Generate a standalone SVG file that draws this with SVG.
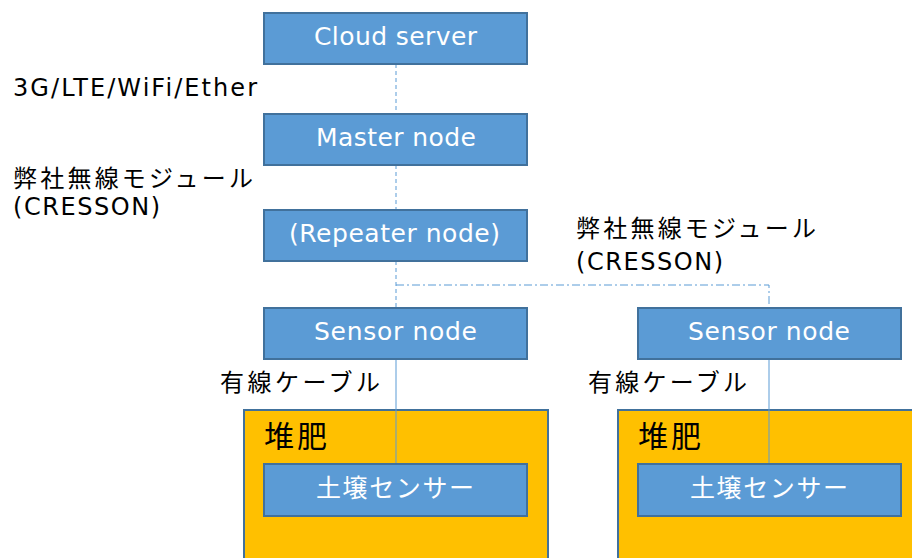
<svg xmlns="http://www.w3.org/2000/svg" width="912" height="558" viewBox="0 0 912 558">
  <style>
    .box { fill: #5B9BD5; stroke: #41719C; stroke-width: 2; }
    .pile { fill: #FFC000; stroke: #41719C; stroke-width: 2; }
    .nt { fill: #FFFFFF; font-family: "DejaVu Sans", "Noto Sans CJK JP", sans-serif; font-size: 25px; }
    .ntj { fill: #FFFFFF; font-family: "Noto Sans CJK JP", sans-serif; font-size: 25px; }
    .lbl { fill: #000000; font-family: "DejaVu Sans", "Noto Sans CJK JP", sans-serif; font-size: 24px; }
    .lblj { fill: #000000; font-family: "Noto Sans CJK JP", sans-serif; font-size: 24px; }
    .big { fill: #000000; font-family: "Noto Sans CJK JP", sans-serif; font-size: 30px; }
    .dash { stroke: #5B9BD5; stroke-width: 1; fill: none; stroke-dasharray: 4 3; }
    .dashdot { stroke: #5B9BD5; stroke-width: 1; fill: none; stroke-dasharray: 8 3 2 3; }
    .solid { stroke: #5B9BD5; stroke-width: 1; fill: none; }
  </style>

  <!-- compost piles -->
  <g id="pile-left">
    <rect class="pile" x="244" y="410" width="304" height="160"/>
    <text class="big" x="264" y="447" textLength="63">堆肥</text>
  </g>
  <g id="pile-right">
    <rect class="pile" x="618" y="410" width="304" height="160"/>
    <text class="big" x="638" y="447" textLength="63">堆肥</text>
  </g>

  <!-- connectors -->
  <g id="connectors">
    <line class="dash" x1="396" y1="64" x2="396" y2="114"/>
    <line class="dash" x1="396" y1="165" x2="396" y2="210"/>
    <line class="dash" x1="396" y1="261" x2="396" y2="308"/>
    <polyline class="dashdot" points="396,285 769,285 769,308"/>
    <line class="solid" x1="396" y1="359" x2="396" y2="464"/>
    <line class="solid" x1="769" y1="359" x2="769" y2="464"/>
  </g>

  <g id="cloud-server">
    <rect class="box" x="264" y="13" width="263" height="51"/>
    <text class="nt" x="314" y="45" textLength="163">Cloud server</text>
  </g>
  <g id="master-node">
    <rect class="box" x="264" y="114" width="263" height="51"/>
    <text class="nt" x="316" y="146" textLength="160">Master node</text>
  </g>
  <g id="repeater-node">
    <rect class="box" x="264" y="210" width="263" height="51"/>
    <text class="nt" x="289" y="242" textLength="211">(Repeater node)</text>
  </g>
  <g id="sensor-node-left">
    <rect class="box" x="264" y="308" width="263" height="51"/>
    <text class="nt" x="314" y="340" textLength="163">Sensor node</text>
  </g>
  <g id="sensor-node-right">
    <rect class="box" x="638" y="308" width="263" height="51"/>
    <text class="nt" x="688" y="340" textLength="162">Sensor node</text>
  </g>
  <g id="soil-sensor-left">
    <rect class="box" x="264" y="464" width="263" height="52"/>
    <text class="ntj" x="316" y="497" textLength="158">土壌センサー</text>
  </g>
  <g id="soil-sensor-right">
    <rect class="box" x="638" y="464" width="263" height="52"/>
    <text class="ntj" x="690" y="497" textLength="158">土壌センサー</text>
  </g>

  <!-- link labels -->
  <g id="labels">
    <text class="lbl" x="13" y="96" textLength="244">3G/LTE/WiFi/Ether</text>
    <text class="lblj" x="13" y="187" textLength="240">弊社無線モジュール</text>
    <text class="lbl" x="13" y="215" textLength="147">(CRESSON)</text>
    <text class="lblj" x="576" y="237" textLength="240">弊社無線モジュール</text>
    <text class="lbl" x="576" y="270" textLength="147">(CRESSON)</text>
    <text class="lblj" x="220" y="391" textLength="160">有線ケーブル</text>
    <text class="lblj" x="588" y="391" textLength="159">有線ケーブル</text>
  </g>
</svg>
